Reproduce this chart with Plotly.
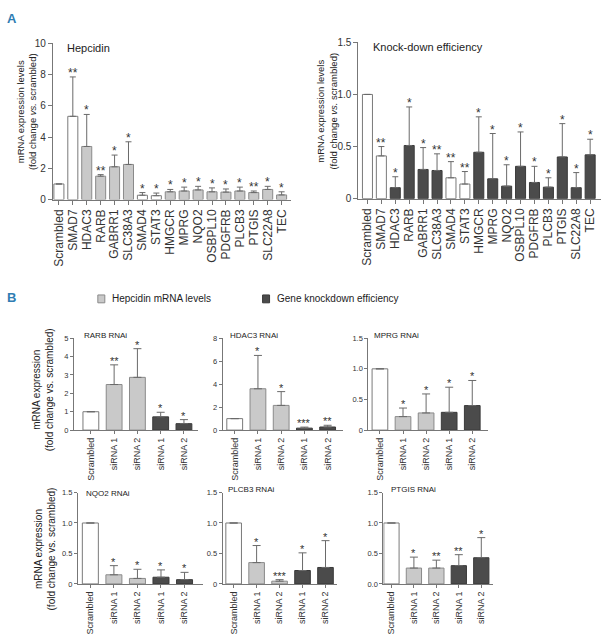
import plotly.graph_objects as go

W, H = 603, 643

# ---------------- Panel A data ----------------
genes = ["Scrambled", "SMAD7", "HDAC3", "RARB", "GABRR1", "SLC38A3", "SMAD4", "STAT3",
         "HMGCR", "MPRG", "NQO2", "OSBPL10", "PDGFRB", "PLCB3", "PTGIS", "SLC22A8", "TEC"]

hep_mean = [1.0, 5.33, 3.4, 1.5, 2.1, 2.25, 0.28, 0.25, 0.5, 0.55, 0.62, 0.5, 0.48, 0.55, 0.45, 0.65, 0.3]
hep_upper = [None, 7.85, 5.45, 1.6, 2.85, 3.7, 0.45, 0.42, 0.65, 0.8, 0.85, 0.75, 0.68, 0.8, 0.55, 0.85, 0.5]
hep_sig = ["", "**", "*", "**", "*", "*", "*", "*", "*", "*", "*", "*", "*", "*", "**", "*", "*"]
hep_group = ["ctrl", "ctrl", "hep", "hep", "hep", "hep", "ctrl", "ctrl",
             "hep", "hep", "hep", "hep", "hep", "hep", "hep", "hep", "hep"]

kd_mean = [1.0, 0.41, 0.105, 0.51, 0.28, 0.27, 0.20, 0.14, 0.445, 0.19, 0.12, 0.31, 0.155, 0.11, 0.40, 0.105, 0.42]
kd_upper = [None, 0.50, 0.21, 0.88, 0.49, 0.43, 0.355, 0.26, 0.785, 0.625, 0.325, 0.64, 0.31, 0.20, 0.72, 0.25, 0.57]
kd_sig = ["", "**", "*", "*", "*", "**", "**", "**", "*", "*", "*", "*", "*", "*", "*", "*", "*"]
kd_group = ["ctrl", "ctrl", "kd", "kd", "kd", "kd", "ctrl", "ctrl",
            "kd", "kd", "kd", "kd", "kd", "kd", "kd", "kd", "kd"]

# ---------------- Panel B data ----------------
conditions = ["Scrambled", "siRNA 1", "siRNA 2", "siRNA 1", "siRNA 2"]
cond_group = ["ctrl", "hep", "hep", "kd", "kd"]

rarb_mean = [1.0, 2.48, 2.87, 0.72, 0.35]
rarb_upper = [None, 3.55, 4.43, 0.97, 0.57]
rarb_sig = ["", "**", "*", "*", "*"]

hdac3_mean = [1.0, 3.6, 2.15, 0.17, 0.27]
hdac3_upper = [None, 6.5, 3.35, 0.26, 0.42]
hdac3_sig = ["", "*", "*", "***", "**"]

mprg_mean = [1.0, 0.22, 0.28, 0.29, 0.40]
mprg_upper = [None, 0.36, 0.59, 0.70, 0.81]
mprg_sig = ["", "*", "*", "*", "*"]

nqo2_mean = [1.0, 0.15, 0.09, 0.11, 0.07]
nqo2_upper = [None, 0.30, 0.24, 0.23, 0.19]
nqo2_sig = ["", "*", "*", "*", "*"]

plcb3_mean = [1.0, 0.35, 0.045, 0.22, 0.27]
plcb3_upper = [None, 0.63, 0.07, 0.51, 0.71]
plcb3_sig = ["", "*", "***", "*", "*"]

ptgis_mean = [1.0, 0.26, 0.26, 0.30, 0.43]
ptgis_upper = [None, 0.44, 0.39, 0.48, 0.76]
ptgis_sig = ["", "*", "**", "**", "*"]

# ---------------- styles ----------------
FILL = {"ctrl": "#ffffff", "hep": "#c9c9c9", "kd": "#4b4b4b"}
EDGE = {"ctrl": "#7a7a7a", "hep": "#8a8a8a", "kd": "#3a3a3a"}
AXC = "#777777"
TXT = "#333333"
FONT = "Liberation Sans, Arial, sans-serif"
BLUE = "#2f7db3"


def xd(a, b):
    return [a / W, b / W]


def yd(top, bottom):
    return [1 - bottom / H, 1 - top / H]


fig = go.Figure()
annotations = []


def add_panel(idx, xs, means, uppers, sigs, groups, xdom, ydom, xrange, yrange,
              tickvals, ticktext, xticktext, bar_w, cap, xfont, yfont, star_size,
              ticklen, title, title_px, title_size):
    xa = "xaxis" if idx == 1 else f"xaxis{idx}"
    ya = "yaxis" if idx == 1 else f"yaxis{idx}"
    xr = "x" if idx == 1 else f"x{idx}"
    yr = "y" if idx == 1 else f"y{idx}"
    errs = [(u - m) if u is not None else None for m, u in zip(means, uppers)]
    fig.add_trace(go.Bar(
        x=xs, y=means, xaxis=xr, yaxis=yr, width=bar_w,
        marker=dict(color=[FILL[g] for g in groups],
                    line=dict(color=[EDGE[g] for g in groups], width=1)),
        error_y=dict(type="data", array=errs, arrayminus=[0] * len(errs), symmetric=False,
                     color="#6a6a6a", thickness=1, width=cap),
        showlegend=False, hoverinfo="skip"))
    for x, u, s in zip(xs, uppers, sigs):
        if s:
            annotations.append(dict(x=x, y=u, xref=xr, yref=yr, text=s, showarrow=False,
                                    xanchor="center", yanchor="middle", yshift=4,
                                    font=dict(family=FONT, size=star_size, color=TXT)))
    fig.layout[xa] = dict(domain=xdom, range=xrange, anchor=yr, showgrid=False, zeroline=False,
                          showline=True, linecolor=AXC, linewidth=1, ticks="outside",
                          ticklen=ticklen, tickcolor=AXC, tickangle=-90,
                          tickmode="array", tickvals=xs, ticktext=xticktext,
                          tickfont=dict(family=FONT, size=xfont, color=TXT), fixedrange=True)
    fig.layout[ya] = dict(domain=ydom, range=yrange, anchor=xr, showgrid=False, zeroline=False,
                          showline=True, linecolor=AXC, linewidth=1, ticks="outside",
                          ticklen=ticklen, tickcolor=AXC, tickmode="array",
                          tickvals=tickvals, ticktext=ticktext,
                          tickfont=dict(family=FONT, size=yfont, color=TXT), fixedrange=True)
    annotations.append(dict(x=title_px[0] / W, y=1 - title_px[1] / H, xref="paper", yref="paper",
                            text=title, showarrow=False, xanchor="left", yanchor="middle",
                            font=dict(family=FONT, size=title_size, color="#222222")))


idx_a = list(range(len(genes)))
idx_b = list(range(len(conditions)))

add_panel(1, idx_a, hep_mean, hep_upper, hep_sig, hep_group, xd(52, 290), yd(39, 198),
          [-0.43, 16.64], [0, 10], [0, 2, 4, 6, 8, 10], ["0", "2", "4", "6", "8", "10"],
          genes, 0.72, 3, 12, 10, 12, 4, "Hepcidin", (64, 44), 11)
add_panel(2, idx_a, kd_mean, kd_upper, kd_sig, kd_group, xd(358, 601), yd(38, 197),
          [-0.65, 16.78], [0, 1.5], [0, 0.5, 1.0, 1.5], ["0", "0.5", "1.0", "1.5"],
          genes, 0.72, 3, 12, 10, 12, 4, "Knock-down efficiency", (371, 43), 11)

row1 = yd(339, 432.5)
row2 = yd(496, 589)
half = [0, 0.5, 1.0, 1.5]
add_panel(3, idx_b, rarb_mean, rarb_upper, rarb_sig, cond_group, xd(73, 197), row1,
          [-0.73, 4.59], [0, 5], [0, 1, 2, 3, 4, 5], ["0", "1", "2", "3", "4", "5"],
          conditions, 0.68, 4, 9, 7.5, 11, 3, "RARB RNAi", (81, 336), 8)
add_panel(4, idx_b, hdac3_mean, hdac3_upper, hdac3_sig, cond_group, xd(222, 343), row1,
          [-0.52, 4.68], [0, 8], [0, 2, 4, 6, 8], ["0", "2", "4", "6", "8"],
          conditions, 0.68, 4, 9, 7.5, 11, 3, "HDAC3 RNAi", (227, 336), 8)
add_panel(5, idx_b, mprg_mean, mprg_upper, mprg_sig, cond_group, xd(368, 488), row1,
          [-0.5, 4.69], [0, 1.5], half, ["0", "0.5", "1.0", "1.5"],
          conditions, 0.68, 4, 9, 7.5, 11, 3, "MPRG RNAi", (372, 336), 8)
add_panel(6, idx_b, nqo2_mean, nqo2_upper, nqo2_sig, cond_group, xd(77, 202), row2,
          [-0.53, 4.77], [0, 1.5], half, ["0", "0.5", "1.0", "1.5"],
          conditions, 0.68, 4, 9, 7.5, 11, 3, "NQO2 RNAi", (83, 497), 8)
add_panel(7, idx_b, plcb3_mean, plcb3_upper, plcb3_sig, cond_group, xd(222, 337), row2,
          [-0.48, 4.52], [0, 1.5], half, ["0", "0.5", "1.0", "1.5"],
          conditions, 0.68, 4, 9, 7.5, 11, 3, "PLCB3 RNAi", (225, 493), 8)
add_panel(8, idx_b, ptgis_mean, ptgis_upper, ptgis_sig, cond_group, xd(383, 493), row2,
          [-0.36, 4.53], [0, 1.5], half, ["0.0", "0.5", "1.0", "1.5"],
          conditions, 0.68, 4, 9, 7.5, 11, 3, "PTGIS RNAi", (389, 493), 8)


# y-axis titles
def ytitle(text, cx, cy, size):
    annotations.append(dict(x=cx / W, y=1 - cy / H, xref="paper", yref="paper", text=text,
                            textangle=-90, showarrow=False, xanchor="center", yanchor="middle",
                            font=dict(family=FONT, size=size, color="#222222")))


ytitle("mRNA expression levels<br>(fold change <i>vs.</i> scrambled)", 25, 108, 9.5)
ytitle("mRNA expression levels<br>(fold change <i>vs.</i> scrambled)", 326, 108, 9.5)
ytitle("mRNA expression<br>(fold change vs. scrambled)", 42, 391, 10)
ytitle("mRNA expression<br>(fold change vs. scrambled)", 44, 553, 10)

# panel letters
for letter, (px, py) in [("A", (11, 14)), ("B", (11, 298))]:
    annotations.append(dict(x=px / W, y=1 - py / H, xref="paper", yref="paper", text=f"<b>{letter}</b>",
                            showarrow=False, xanchor="center", yanchor="middle",
                            font=dict(family="Liberation Sans Narrow, Liberation Sans, Arial", size=13, color=BLUE)))

# legend (manual)
shapes = []
legend_items = [("Hepcidin mRNA levels", "hep", 97), ("Gene knockdown efficiency", "kd", 262)]
for label, g, lx in legend_items:
    shapes.append(dict(type="rect", xref="paper", yref="paper",
                       x0=lx / W, x1=(lx + 7) / W, y0=1 - 303 / H, y1=1 - 295 / H,
                       fillcolor=FILL[g], line=dict(color=EDGE[g], width=1)))
    annotations.append(dict(x=(lx + 12) / W, y=1 - 299 / H, xref="paper", yref="paper", text=label,
                            showarrow=False, xanchor="left", yanchor="middle",
                            font=dict(family=FONT, size=10, color="#222222")))

fig.update_layout(width=W, height=H, autosize=False,
                  margin=dict(l=0, r=0, t=0, b=0),
                  paper_bgcolor="white", plot_bgcolor="white",
                  bargap=0.3, barmode="overlay",
                  annotations=annotations, shapes=shapes, showlegend=False)

fig.write_html("out.html", config={"displayModeBar": False},
               post_script="document.body.style.margin='0';document.body.style.padding='0';")
